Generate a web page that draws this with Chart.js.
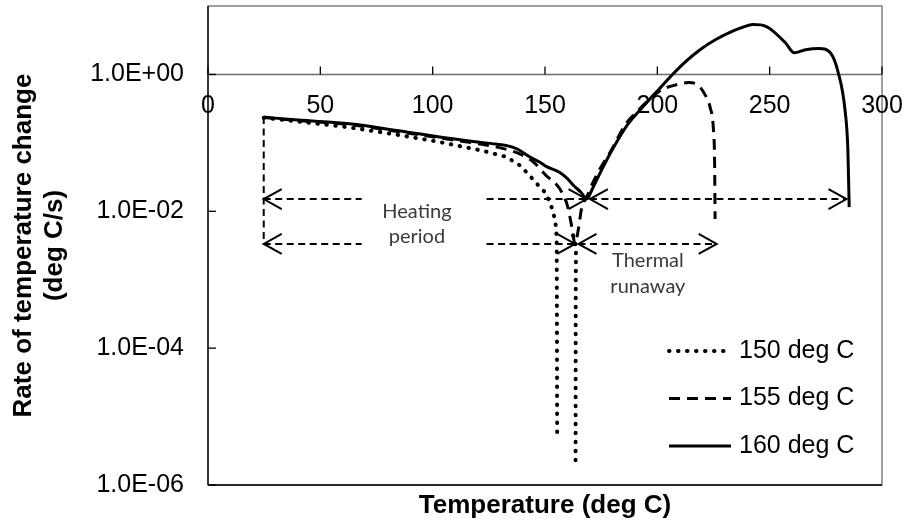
<!DOCTYPE html>
<html>
<head>
<meta charset="utf-8">
<script src="https://cdn.jsdelivr.net/npm/chart.js@4.4.1/dist/chart.umd.min.js"></script>
<style>
  html, body { margin: 0; padding: 0; background: #fff; }
  canvas { display: block; }
</style>
</head>
<body>
<canvas id="rateChart" width="907" height="521"></canvas>
<script>
const seriesNames = ['150 deg C', '155 deg C', '160 deg C'];

// 150 deg C run: rate dips below zero between the two vertical drops (gap)
const temp150 = [24.8, 40, 63, 85, 103, 122, 133, 139.6, 142.4, 145.5, 147.7, 150, 152.2, 153.6, 154.5, 155, 155.2, 155.3, 155.35, 155.4, 155.5, 163.6, 163.65, 163.7, 163.8, 163.1, 162];
const rate150 = [0.232, 0.205, 0.168, 0.13, 0.103, 0.077, 0.062, 0.045, 0.035, 0.0275, 0.0225, 0.019, 0.0136, 0.0098, 0.0073, 0.0055, 0.0035, 0.0004, 0.00004, 0.0000048, null, 0.0000023, 0.0001, 0.001, 0.0028, 0.0042, 0.0046];

const temp155 = [24.8, 40, 63, 85, 103, 122, 133, 140, 145, 151, 154, 157.5, 160, 161.5, 162.5, 163.3, 164.7, 166.4, 168.5, 171, 174.5, 179, 186, 192, 197, 200, 203, 208, 214, 218, 221, 223.5, 225, 225.5, 225.7];
const rate155 = [0.234, 0.212, 0.185, 0.145, 0.118, 0.095, 0.08, 0.066, 0.052, 0.032, 0.027, 0.019, 0.012, 0.007, 0.0045, 0.0033, 0.0051, 0.0115, 0.016, 0.025, 0.042, 0.073, 0.19, 0.31, 0.45, 0.54, 0.62, 0.7, 0.76, 0.7, 0.52, 0.33, 0.15, 0.05, 0.0077];

const temp160 = [24.8, 40, 63, 85, 103, 118, 128, 133, 137.4, 143.3, 147.7, 150.7, 156.6, 160, 162.6, 166, 168.6, 171, 175, 180, 186.5, 192, 197, 201, 206.5, 212, 219, 226, 234, 238, 242.5, 246, 249, 251.5, 257, 261, 266, 272, 277, 280.4, 283.5, 284.8, 285.4];
const rate160 = [0.238, 0.215, 0.19, 0.15, 0.122, 0.105, 0.096, 0.091, 0.082, 0.062, 0.052, 0.045, 0.037, 0.03, 0.024, 0.019, 0.0152, 0.021, 0.039, 0.08, 0.18, 0.295, 0.45, 0.62, 0.98, 1.48, 2.3, 3.24, 4.37, 4.9, 5.37, 5.3, 4.9, 4.3, 2.9, 2.07, 2.3, 2.4, 2.07, 1.1, 0.31, 0.08, 0.0115];

const xTickValues = [0, 50, 100, 150, 200, 250, 300];
const xTickLabels = ['0', '50', '100', '150', '200', '250', '300'];
const yTickValues = [1e-6, 1e-4, 1e-2, 1];
const yTickLabels = ['1.0E-06', '1.0E-04', '1.0E-02', '1.0E+00'];

// heating / runaway arrows, one row for 160 deg C and one for 155 deg C
const arrowRates = [0.0151, 0.00333];
const heatingStart = 24.8;
const heatingEnd = [168.5, 163.4];
const runawayStart = [170, 164.9];
const runawayEnd = [284.2, 226.4];
const labelGap = [68.4, 124];
const heatingText = ['Heating', 'period'];
const runawayText = ['Thermal', 'runaway'];

function toPoints(temps, rates) {
  return temps.map((t, i) => ({ x: t, y: rates[i] }));
}

function arrowHead(ctx, x, y, dir) {
  ctx.beginPath();
  ctx.moveTo(x - dir * 18, y - 10);
  ctx.lineTo(x, y);
  ctx.lineTo(x - dir * 18, y + 10);
  ctx.stroke();
}

function segment(ctx, x1, y1, x2, y2) {
  ctx.beginPath();
  ctx.moveTo(x1, y1);
  ctx.lineTo(x2, y2);
  ctx.stroke();
}

const framePlugin = {
  id: 'frame',
  beforeDatasetsDraw(chart) {
    const { ctx, chartArea: a, scales: { x, y } } = chart;
    ctx.save();
    ctx.lineWidth = 1.3;
    ctx.strokeStyle = '#6e6e6e';
    ctx.strokeRect(a.left, a.top, a.right - a.left, a.bottom - a.top);
    ctx.strokeStyle = '#000';
    segment(ctx, a.left, a.top, a.left, a.bottom);
    segment(ctx, a.left, a.bottom, a.right, a.bottom);

    // horizontal axis crosses at 1.0E+00
    const axisY = Math.round(y.getPixelForValue(1)) + 0.5;
    ctx.strokeStyle = '#6e6e6e';
    segment(ctx, a.left, axisY, a.right, axisY);
    ctx.font = '25px Arial, "Liberation Sans"';
    ctx.fillStyle = '#000';
    ctx.textAlign = 'center';
    ctx.textBaseline = 'middle';
    ctx.strokeStyle = '#000';
    xTickValues.forEach((v, i) => {
      const px = x.getPixelForValue(v);
      segment(ctx, px, axisY - 8, px, axisY);
      ctx.fillText(xTickLabels[i], px, axisY + 32);
    });
    yTickValues.forEach(v => {
      const py = y.getPixelForValue(v);
      segment(ctx, a.left, py, a.left + 8, py);
    });
    ctx.restore();
  },
  afterDatasetsDraw(chart) {
    const { ctx, chartArea: a, scales: { x, y } } = chart;
    ctx.save();
    ctx.strokeStyle = '#000';
    ctx.lineWidth = 2;
    const x0 = x.getPixelForValue(heatingStart);
    const g1 = x.getPixelForValue(labelGap[0]);
    const g2 = x.getPixelForValue(labelGap[1]);

    ctx.setLineDash([7, 4.5]);
    segment(ctx, x0, y.getPixelForValue(rate160[0]), x0, y.getPixelForValue(arrowRates[1]));
    arrowRates.forEach((r, i) => {
      const py = y.getPixelForValue(r);
      ctx.setLineDash([7, 4.5]);
      segment(ctx, x0, py, g1, py);
      segment(ctx, g2, py, x.getPixelForValue(heatingEnd[i]), py);
      segment(ctx, x.getPixelForValue(runawayStart[i]), py, x.getPixelForValue(runawayEnd[i]), py);
      ctx.setLineDash([]);
      arrowHead(ctx, x0, py, -1);
      arrowHead(ctx, x.getPixelForValue(heatingEnd[i]), py, 1);
      arrowHead(ctx, x.getPixelForValue(runawayStart[i]), py, -1);
      arrowHead(ctx, x.getPixelForValue(runawayEnd[i]), py, 1);
    });

    ctx.font = '20px Lato, "Open Sans", sans-serif';
    ctx.fillStyle = '#3a3a3a';
    ctx.textAlign = 'center';
    ctx.textBaseline = 'middle';
    const hx = x.getPixelForValue(93);
    const hy = (y.getPixelForValue(arrowRates[0]) + y.getPixelForValue(arrowRates[1])) / 2;
    ctx.fillText(heatingText[0], hx, hy - 10);
    ctx.fillText(heatingText[1], hx, hy + 15);
    const tx = x.getPixelForValue(195.8);
    const ty = y.getPixelForValue(arrowRates[1]);
    ctx.fillText(runawayText[0], tx, ty + 17);
    ctx.fillText(runawayText[1], tx, ty + 43);

    // legend with line samples
    ctx.font = '25px Arial, "Liberation Sans"';
    ctx.fillStyle = '#000';
    ctx.textAlign = 'left';
    chart.data.datasets.forEach((ds, i) => {
      const ly = a.top + 345 + i * 47.5;
      ctx.setLineDash(ds.borderDash || []);
      ctx.lineCap = ds.borderCapStyle || 'butt';
      ctx.lineWidth = ds.borderWidth;
      segment(ctx, a.right - 213, ly, a.right - 151, ly);
      ctx.fillText(ds.label, a.right - 143, ly);
    });
    ctx.restore();
  }
};

new Chart(document.getElementById('rateChart'), {
  type: 'scatter',
  data: {
    datasets: [
      {
        label: seriesNames[0],
        data: toPoints(temp150, rate150),
        showLine: true,
        borderColor: '#000',
        borderWidth: 4,
        borderDash: [0.5, 8.5],
        borderCapStyle: 'round',
        pointRadius: 0
      },
      {
        label: seriesNames[1],
        data: toPoints(temp155, rate155),
        showLine: true,
        borderColor: '#000',
        borderWidth: 3,
        borderDash: [11, 7],
        borderCapStyle: 'butt',
        cubicInterpolationMode: 'monotone',
        pointRadius: 0
      },
      {
        label: seriesNames[2],
        data: toPoints(temp160, rate160),
        showLine: true,
        borderColor: '#000',
        borderWidth: 3,
        borderCapStyle: 'butt',
        cubicInterpolationMode: 'monotone',
        pointRadius: 0
      }
    ]
  },
  options: {
    responsive: false,
    animation: false,
    layout: { padding: { top: 6, right: 25, left: 0, bottom: 0 } },
    plugins: { legend: { display: false }, tooltip: { enabled: false } },
    scales: {
      x: {
        type: 'linear',
        min: 0,
        max: 300,
        grid: { display: false, drawTicks: false },
        border: { display: false },
        ticks: { display: false },
        title: {
          display: true,
          text: 'Temperature (deg C)',
          color: '#000',
          font: { family: 'Arial, "Liberation Sans"', size: 26, weight: 'bold' },
          padding: 0
        },
        afterFit(scale) {
          scale.height = 36;
          scale.paddingLeft = 0;
          scale.paddingRight = 0;
        }
      },
      y: {
        type: 'logarithmic',
        min: 1e-6,
        max: 10,
        grid: { display: false, drawTicks: false },
        border: { display: false },
        afterBuildTicks(scale) {
          scale.ticks = yTickValues.map(v => ({ value: v }));
        },
        ticks: {
          color: '#000',
          padding: 24,
          font: { family: 'Arial, "Liberation Sans"', size: 25 },
          callback(value) {
            const i = yTickValues.indexOf(value);
            return i >= 0 ? yTickLabels[i] : '';
          }
        },
        title: {
          display: true,
          text: ['Rate of temperature change', '(deg C/s)'],
          color: '#000',
          font: { family: 'Arial, "Liberation Sans"', size: 26, weight: 'bold', lineHeight: 1.2 },
          padding: { top: 8, bottom: 0 }
        },
        afterFit(scale) {
          scale.width = 208;
          scale.paddingTop = 0;
          scale.paddingBottom = 0;
        }
      }
    }
  },
  plugins: [framePlugin]
});
</script>
</body>
</html>
